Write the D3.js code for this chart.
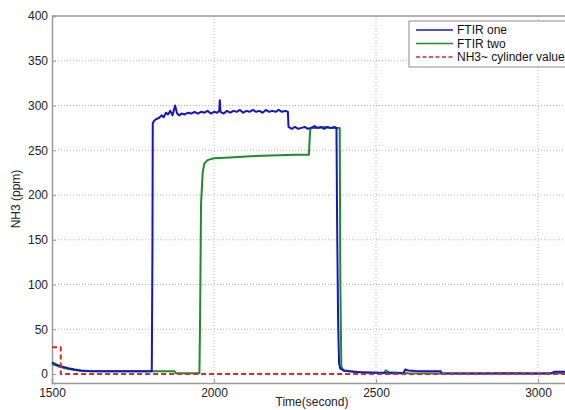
<!DOCTYPE html>
<html>
<head>
<meta charset="utf-8">
<script src="https://cdn.jsdelivr.net/npm/d3@7"></script>
<style>
  body { margin: 0; background: #fff; }
  svg { display: block; font-family: "Liberation Sans", Arial, sans-serif; }
</style>
</head>
<body>
<svg id="chart" width="565" height="410"></svg>
<script>
// series as [time, ppm] pairs
var ftirOne = [
  [1500, 13], [1510, 11], [1520, 9.5], [1535, 8], [1550, 6.5], [1570, 5], [1590, 4], [1610, 3.5],
  [1650, 3], [1700, 3], [1750, 3], [1808, 3], [1810, 140], [1811, 280], [1815, 283], [1822, 285],
  [1830, 286], [1838, 289], [1845, 287], [1852, 292], [1858, 290], [1865, 294], [1872, 289],
  [1880, 300], [1886, 291], [1893, 289], [1900, 291], [1910, 290], [1920, 292], [1930, 291],
  [1940, 293], [1950, 291], [1960, 293], [1970, 292], [1980, 294], [1990, 291], [2000, 293],
  [2010, 292], [2016, 294], [2018, 306], [2020, 293], [2030, 291], [2040, 294], [2050, 292],
  [2060, 294], [2070, 293], [2080, 295], [2090, 292], [2100, 294], [2110, 293], [2120, 295],
  [2130, 293], [2140, 294], [2150, 292], [2160, 295], [2170, 293], [2180, 294], [2190, 293],
  [2200, 295], [2210, 293], [2220, 294], [2228, 293], [2230, 276], [2240, 274], [2250, 276],
  [2260, 274], [2270, 275], [2280, 276], [2290, 274], [2300, 275], [2310, 277], [2320, 275],
  [2330, 276], [2340, 274], [2350, 276], [2360, 275], [2372, 276], [2378, 275], [2380, 170],
  [2383, 60], [2386, 12], [2390, 6], [2400, 4], [2420, 3], [2450, 2], [2500, 1.5], [2550, 1],
  [2585, 1], [2590, 5], [2600, 4], [2620, 3.5], [2650, 3], [2700, 3], [2702, 1], [2800, 0.5],
  [2900, 0.5], [3000, 0.5], [3040, 1], [3050, 2.5], [3100, 2.5], [3200, 2]
]
var ftirTwo = [
  [1500, 11], [1510, 10], [1520, 8.5], [1535, 7], [1550, 5.5], [1570, 4.5], [1590, 3.5],
  [1620, 3], [1700, 3], [1800, 3], [1878, 3], [1882, 1], [1920, 1], [1955, 1], [1957, 60],
  [1960, 190], [1965, 225], [1970, 235], [1980, 239], [2000, 241], [2050, 242], [2100, 243],
  [2150, 244], [2200, 244.5], [2250, 245], [2293, 245], [2296, 268], [2298, 275], [2320, 275],
  [2340, 276], [2360, 275], [2388, 275], [2390, 100], [2393, 8], [2400, 4], [2430, 2.5],
  [2480, 1.5], [2525, 1.5], [2530, 4], [2540, 2], [2600, 1], [2700, 0.5], [2800, 0.5],
  [2900, 1], [3000, 0.5], [3100, 1], [3200, 1]
]
var cylinder = [[1500, 30], [1527, 30], [1527, 0], [3200, 0]]

var xTicks = [1500, 2000, 2500, 3000]
var yTicks = [0, 50, 100, 150, 200, 250, 300, 350, 400]
var legendNames = ["FTIR one", "FTIR two", "NH3~ cylinder value"]
var colors = ["#1414c8", "#1e8c28", "#d42a2a"]

var plotLeft = 52, plotTop = 16, plotBottom = 383
var svg = d3.select("#chart")

var x = d3.scaleLinear().domain([1500, 3200]).range([plotLeft, plotLeft + 1700 * 0.324])
var y = d3.scaleLinear().domain([-10, 400]).range([plotBottom, plotTop])

// grid
var grid = svg.append("g").attr("stroke", "#b8b8b8").attr("stroke-dasharray", "1,2")
grid.selectAll("line.gx").data(xTicks.slice(1)).join("line").attr("class", "gx")
    .attr("x1", d => x(d)).attr("x2", d => x(d)).attr("y1", plotTop).attr("y2", plotBottom)
grid.selectAll("line.gy").data(yTicks.slice(1, -1)).join("line").attr("class", "gy")
    .attr("x1", plotLeft).attr("x2", 565).attr("y1", d => y(d)).attr("y2", d => y(d))

// axes
var xAxis = svg.append("g").attr("transform", `translate(0,${plotBottom})`)
    .call(d3.axisBottom(x).tickValues(xTicks).tickSize(-4).tickPadding(5).tickFormat(d3.format("d")))
var yAxis = svg.append("g").attr("transform", `translate(${plotLeft},0)`)
    .call(d3.axisLeft(y).tickValues(yTicks).tickSize(-4).tickPadding(4))
;[xAxis, yAxis].forEach(a => {
  a.select(".domain").attr("stroke", "#9a9a9a").attr("stroke-width", 1.5)
  a.selectAll(".tick line").attr("stroke", "#9a9a9a")
  a.selectAll("text").attr("font-size", 12).attr("fill", "#222")
    .attr("font-family", "'Liberation Sans', Arial, sans-serif")
})
svg.append("line").attr("x1", plotLeft).attr("x2", 565).attr("y1", plotTop).attr("y2", plotTop)
    .attr("stroke", "#9a9a9a").attr("stroke-width", 1.5)

var line = d3.line().x(d => x(d[0])).y(d => y(d[1]))
var series = [ftirOne, ftirTwo, cylinder]
// draw green under blue, dashed red on top
;[1, 0, 2].forEach(i => {
  svg.append("path").datum(series[i])
    .attr("fill", "none")
    .attr("stroke", colors[i])
    .attr("stroke-width", 2)
    .attr("stroke-linejoin", "round")
    .attr("stroke-dasharray", i == 2 ? "5,3" : null)
    .attr("d", line)
})

// axis titles
svg.append("text").attr("x", 312).attr("y", 406).attr("text-anchor", "middle")
    .attr("font-size", 12).attr("fill", "#222").text("Time(second)")
svg.append("text").attr("transform", "translate(20,199) rotate(-90)")
    .attr("text-anchor", "middle").attr("font-size", 12).attr("fill", "#222").text("NH3 (ppm)")

// legend
var lg = svg.append("g").attr("transform", "translate(409,21)")
lg.append("rect").attr("width", 170).attr("height", 46)
    .attr("fill", "#fff").attr("stroke", "#8a8a8a")
lg.selectAll("g").data(legendNames).join("g")
    .attr("transform", (d, i) => `translate(0,${9 + i * 13.5})`)
    .each(function (d, i) {
      var g = d3.select(this)
      g.append("line").attr("x1", 7).attr("x2", 44)
        .attr("stroke", colors[i]).attr("stroke-width", 1.5)
        .attr("stroke-dasharray", i == 2 ? "4,2.5" : null)
      g.append("text").attr("x", 48).attr("y", 4).attr("font-size", 12)
        .attr("fill", "#111").text(d)
    })
</script>
</body>
</html>
